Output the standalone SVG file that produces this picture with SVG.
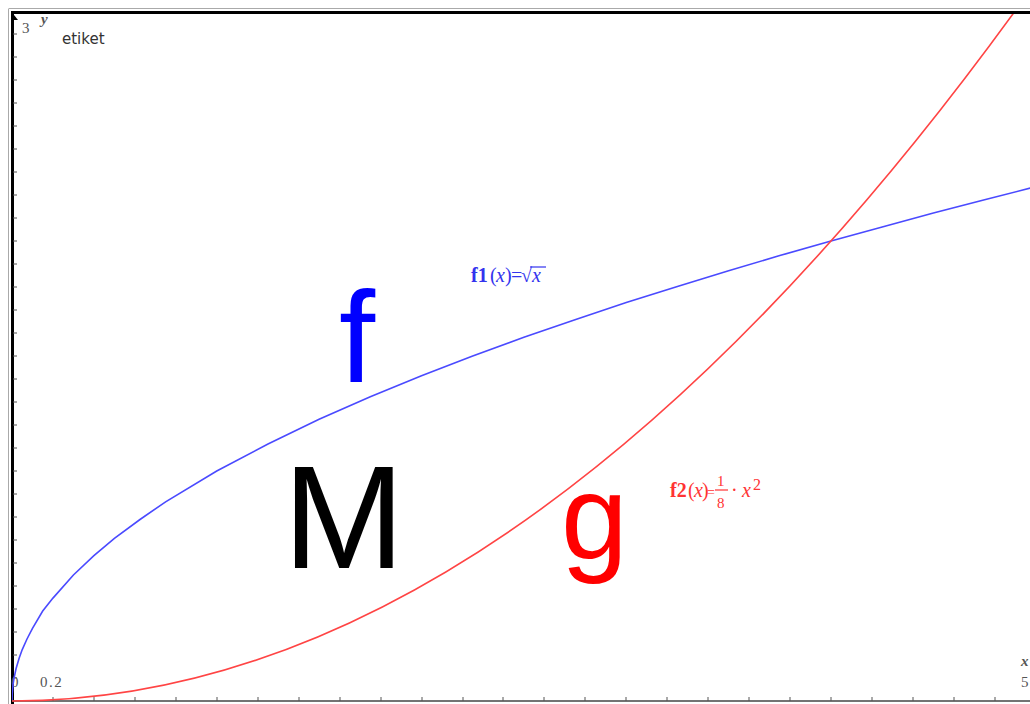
<svg xmlns="http://www.w3.org/2000/svg" width="1030" height="704" viewBox="0 0 1030 704">
<defs>
<style>
.ax{font-family:"Liberation Serif",serif;font-size:15px;fill:#555}
.big{font-family:"Liberation Sans",Arial,sans-serif}
.fm{font-family:"Liberation Serif",serif;font-size:20px}
.tk{stroke:#555;stroke-width:1}
</style>
<clipPath id="plot"><rect x="12" y="14" width="1018" height="688"/></clipPath>
</defs>
<rect width="1030" height="704" fill="#fff"/>
<g id="frame">
<line x1="8.5" y1="9" x2="8.5" y2="704" stroke="#aaa" stroke-width="1"/>
<line x1="8.5" y1="8.5" x2="1030" y2="8.5" stroke="#aaa" stroke-width="1"/>
<line x1="12.5" y1="11" x2="12.5" y2="704" stroke="#000" stroke-width="3"/>
<line x1="11" y1="12.5" x2="1030" y2="12.5" stroke="#000" stroke-width="3"/>
<line x1="12" y1="701" x2="1030" y2="701" stroke="#444" stroke-width="1.5"/>
</g>
<g id="ticks">
<path class="tk" d="M53,701v-4M94,701v-4M135,701v-4M176,701v-4M217,701v-4M258,701v-4M299,701v-4M340,701v-4M381,701v-4M422,701v-4M463,701v-4M503,701v-4M544,701v-4M585,701v-4M626,701v-4M667,701v-4M708,701v-4M749,701v-4M790,701v-4M831,701v-4M872,701v-4M913,701v-4M954,701v-4M995,701v-4"/>
<path class="tk" d="M13,678h4M13,655h4M13,632h4M13,609h4M13,586h4M13,563h4M13,540h4M13,517h4M13,494h4M13,471h4M13,448h4M13,425h4M13,402h4M13,379h4M13,356h4M13,333h4M13,310h4M13,287h4M13,264h4M13,241h4M13,218h4M13,195h4M13,172h4M13,149h4M13,126h4M13,103h4M13,80h4M13,57h4M13,34h4"/>
<path d="M14,15l4,5h-4z" fill="#000"/>
</g>
<g id="axis-labels">
<text class="ax" x="22" y="33" font-size="16">3</text>
<text class="ax" x="41" y="24" font-style="italic" font-weight="bold" font-size="12">y</text>
<text class="ax" x="11" y="687" font-size="16">0</text>
<text class="ax" x="40" y="687" font-size="16" letter-spacing="1.5">0.2</text>
<text class="ax" x="1021" y="666" font-style="italic" font-weight="bold" font-size="12">x</text>
<text class="ax" x="1021" y="687" font-size="16">5</text>
<text x="62" y="44" font-family="DejaVu Sans,sans-serif" font-size="15" fill="#333">etiket</text>
</g>
<g id="curves" clip-path="url(#plot)" fill="none" stroke-width="1.6">
<path id="f1" stroke="#4a4aff" d="M12,701 L12.2,694 L13.02,684.7 L14.05,678 L16.1,668.5 L19.2,658 L22.24,649.6 L27,639 L32.48,628.3 L42.7,611 L52.95,598.1 L73.43,575 L93.9,555.6 L114.4,538.4 L140,519.5 L165.6,501.8 L216.75,471 L268,444 L319.1,419.3 L370.3,396.8 L421.5,375.7 L472.7,356 L523.9,337.3 L575,319.7 L626.25,302.6 L677.4,286.4 L728.6,270.7 L779.8,255.6 L831,241 L882.2,226.9 L933.4,213.1 L984.6,199.7 L1035.75,186.7"/>
<path id="f2" stroke="#ff4444" d="M12,701 Q513.6,701 1015.3,10.7 L1020,3"/>
</g>
<g id="label-f1" class="fm" fill="#3333ee">
<text y="282"><tspan x="471" font-weight="bold">f1</tspan><tspan x="490">(</tspan><tspan x="496" font-style="italic">x</tspan><tspan x="505">)</tspan><tspan x="511">=</tspan><tspan x="521">√</tspan><tspan x="532" font-style="italic">x</tspan></text>
<line x1="530" y1="267" x2="546" y2="267" stroke="#3333ee" stroke-width="1.2"/>
</g>
<g id="label-f2" class="fm" fill="#ff3333">
<text y="497"><tspan x="670" font-weight="bold">f2</tspan><tspan x="688">(</tspan><tspan x="694" font-style="italic">x</tspan><tspan x="702">)</tspan><tspan x="707" font-size="14">=</tspan></text>
<text x="717" y="486" font-size="15">1</text>
<line x1="715" y1="490" x2="728" y2="490" stroke="#ff3333" stroke-width="1.2"/>
<text x="717" y="508" font-size="15">8</text>
<text x="731" y="497">·</text>
<text x="742" y="497" font-style="italic">x</text>
<text x="753" y="490" font-size="16">2</text>
</g>
<g id="big-labels" class="big">
<text id="lbl-f" x="339" y="382" font-size="130" fill="#0000ff">f</text>
<text id="lbl-M" x="283" y="568" font-size="146" fill="#000">M</text>
<text id="lbl-g" x="561" y="559" font-size="120" fill="#ff0000">g</text>
</g>
</svg>
